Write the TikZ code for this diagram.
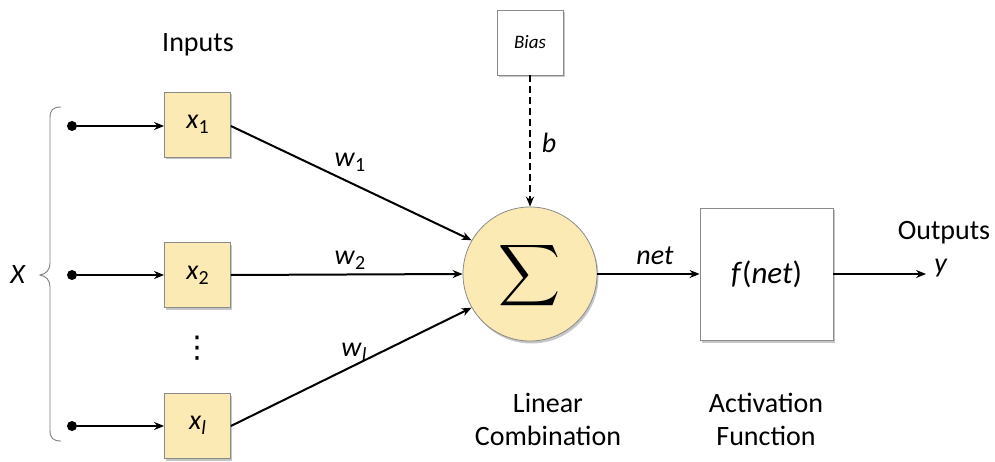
\documentclass[tikz,border=0pt]{standalone}
\usepackage{fontspec}
\setmainfont{Carlito}
\newfontfamily\dejavu{DejaVu Sans}
\usetikzlibrary{arrows.meta,shadows}
\newcommand\mysub[1]{\raisebox{-0.35ex}{\fontsize{20}{20}\selectfont #1}}
\definecolor{boxfill}{HTML}{FCEAB4}
\definecolor{boxline}{HTML}{8A8A8A}
\tikzset{
  txt/.style={font=\fontsize{28}{33}\selectfont, inner sep=0pt},
  inbox/.style={draw=boxline, fill=boxfill, minimum width=66pt, minimum height=65pt, line width=0.8pt,
     drop shadow={shadow xshift=1.5pt, shadow yshift=-2.5pt, opacity=0.45, fill=gray}},
  whitebox/.style={draw=boxline, fill=white, line width=0.8pt,
     drop shadow={shadow xshift=1.5pt, shadow yshift=-2.5pt, opacity=0.45, fill=gray}},
  conn/.style={line width=2pt, -{Stealth[length=10pt,width=8pt]}},
  dot/.style={circle, fill=black, inner sep=0pt, minimum size=10pt},
}
\begin{document}
\begin{tikzpicture}[x=1pt,y=-1pt]
\useasboundingbox (0,0) rectangle (995,462);
% inputs
\node[txt] (inputs) at (198,45) {Inputs};
\node[inbox, txt, minimum width=66pt, minimum height=65pt] (x1) at (197.5,124.5) {\textit{x}\mysub{1}};
\node[inbox, txt, minimum width=66pt, minimum height=65pt] (x2) at (197.5,275) {\textit{x}\mysub{2}};
\node[inbox, txt, minimum width=66pt, minimum height=65pt] (xl) at (197.5,425.5) {\textit{x}\mysub{\textit{l}}};
\node[inner sep=0pt, font=\dejavu\fontsize{30}{30}\selectfont] (vdots) at (197,348) {⋮};
\node[dot] (d1) at (72,126) {};
\node[dot] (d2) at (72,275) {};
\node[dot] (dl) at (72,426) {};
\draw[conn] (d1) -- (x1.west |- d1);
\draw[conn] (d2) -- (x2.west |- d2);
\draw[conn] (dl) -- (xl.west |- dl);
% brace
\draw[gray, line width=0.9pt] (61,107) .. controls (53,107) and (50,110) .. (50,118) -- (50,263)
  .. controls (50,270) and (46,274) .. (40,275) .. controls (46,276) and (50,280) .. (50,287)
  -- (50,430) .. controls (50,438) and (53,441) .. (61,441);
\node[txt] (X) at (18,275) {\textit{X}};
% bias
\node[whitebox, minimum width=66pt, minimum height=65pt, font=\fontsize{19}{22}\selectfont\itshape] (bias) at (530,42.5) {Bias};
% sum
\node[circle, draw=boxline, fill=boxfill, line width=0.8pt, minimum size=134pt, inner sep=0pt,
  drop shadow={shadow xshift=1.5pt, shadow yshift=-2.5pt, opacity=0.45, fill=gray}] (sum) at (530,274) {};
\node[inner sep=0pt] (sigma) at (530,276) {\scalebox{4.3}{$\displaystyle\sum$}};
\draw[conn, dash pattern=on 7pt off 4pt] (bias) -- (sum);
\node[txt] (b) at (549,143) {\textit{b}};
% weights
\draw[conn] (x1.east |- d1) -- (sum.150);
\draw[conn] (x2.east |- d2) -- (sum.west);
\draw[conn] (xl.east |- dl) -- (sum.210);
\node[txt] (w1) at (350,162) {\textit{w}\mysub{1}};
\node[txt] (w2) at (350,260) {\textit{w}\mysub{2}};
\node[txt] (wl) at (354,352) {\textit{w}\mysub{\textit{l}}};
% activation
\node[whitebox, minimum width=133pt, minimum height=132pt, font=\fontsize{31}{35}\selectfont] (f) at (766.5,274) {\textit{f}(\textit{net})};
\draw[conn] (sum) -- (f);
\node[txt] (net) at (655,256) {\textit{net}};
\coordinate (yend) at (926,274);
\draw[conn] (f) -- (yend);
\node[txt] (outputs) at (944,233) {Outputs};
\node[txt] (y) at (941,268) {\textit{y}};
% captions
\node[txt, align=center] (lin) at (548,419) {Linear\\Combination};
\node[txt, align=center] (act) at (766,419) {Activation\\Function};
\end{tikzpicture}
\end{document}
